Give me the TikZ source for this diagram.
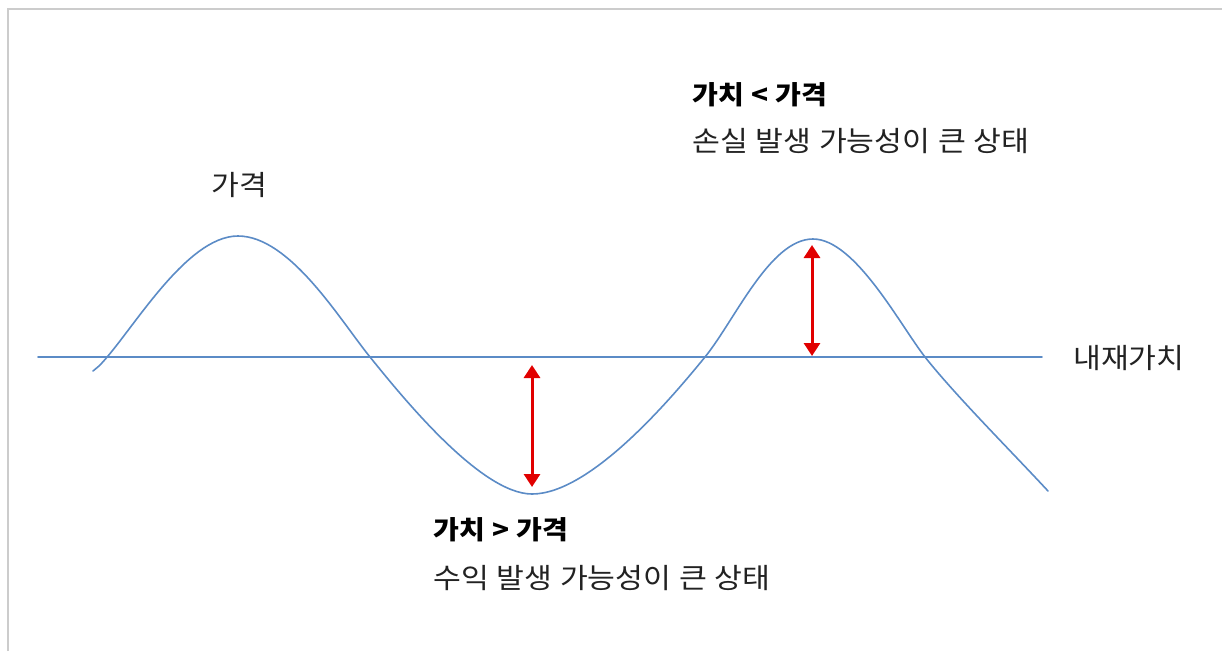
\documentclass[tikz,border=0pt]{standalone}
\usepackage{fontspec}
\setmainfont[WordSpace=1.15, FakeStretch=1.08]{Noto Sans CJK KR}
\usetikzlibrary{arrows.meta}
\definecolor{curveblue}{HTML}{5B8BC6}
\definecolor{arrowred}{HTML}{E10000}
\definecolor{framegray}{HTML}{CCCCCC}
\definecolor{txt}{HTML}{222222}
\begin{document}
\begin{tikzpicture}[x=1pt,y=-1pt,
  lbl/.style={inner sep=0pt, anchor=west, text=txt, font=\fontsize{28}{32}\selectfont},
  boldlbl/.style={lbl, text=black, font=\fontsize{26}{30}\selectfont\bfseries},
  wave/.style={draw=curveblue, line width=1.6pt, line cap=round, line join=round},
  gap/.style={draw=arrowred, line width=3pt, {Triangle[width=16pt,length=13pt]}-{Triangle[width=16pt,length=13pt]}}]
\useasboundingbox (0,0) rectangle (1222,651);
% frame
\draw[framegray, line width=2pt] (8,651) -- (8,9) -- (1222,9);
% intrinsic value line
\coordinate (hl) at (38,357);
\coordinate (hr) at (1042,357);
\draw[wave] (hl) -- (hr);
% price curve
\draw[wave] (93,371) -- (99,366)
  .. controls (130,335) and (185,236) .. (238,236)
  .. controls (290,236) and (340,320) .. (370,357)
  .. controls (400,394) and (480,494) .. (532,494)
  .. controls (590,494) and (670,400) .. (705,357)
  .. controls (735,320) and (770,239) .. (813,239)
  .. controls (855,239) and (900,325) .. (925,357)
  .. controls (955,395) and (1010,450) .. (1048,491);
% gap arrows
\coordinate (a1t) at (532,365);
\coordinate (a1b) at (532,487);
\coordinate (a2t) at (812,245);
\coordinate (a2b) at (812,356);
\draw[gap] (a1t) -- (a1b);
\draw[gap] (a2t) -- (a2b);
% labels
\node[lbl, anchor=center] (price) at (239,185) {가격};
\node[lbl] (iv) at (1073,358) {내재가치};
\node[boldlbl] (under) at (433,530) {가치 > 가격};
\node[lbl] (gain) at (433,578) {수익 발생 가능성이 큰 상태};
\node[boldlbl] (over) at (692,95) {가치 < 가격};
\node[lbl] (loss) at (692,141) {손실 발생 가능성이 큰 상태};
\end{tikzpicture}
\end{document}
